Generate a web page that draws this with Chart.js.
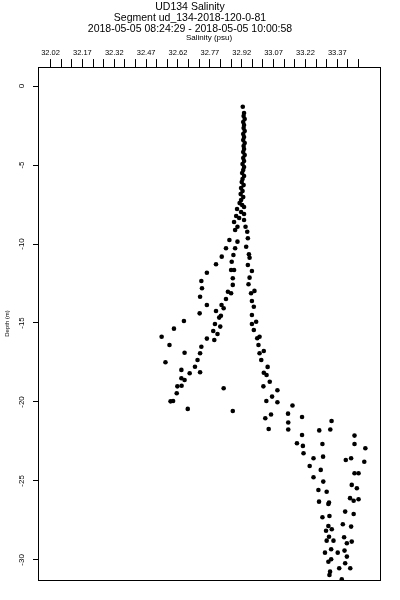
<!DOCTYPE html>
<html>
<head>
<title>UD134 Salinity</title>
<script src="https://cdn.jsdelivr.net/npm/chart.js@4.4.1/dist/chart.umd.min.js"></script>
<style>
  body{ margin:0; background:#fff; }
  canvas{ display:block; }
</style>
</head>
<body>
<canvas id="myChart" width="400" height="600"></canvas>
<script>
// titles
var titleLines = ["UD134 Salinity", "Segment ud_134-2018-120-0-81", "2018-05-05 08:24:29 - 2018-05-05 10:00:58"];
var xTitle = "Salinity (psu)";
var yTitle = "Depth (m)";

// axis ticks (minor every 0.05, labelled every 0.15)
var xTicks = [32.02,32.07,32.12,32.17,32.22,32.27,32.32,32.37,32.42,32.47,32.52,32.57,32.62,32.67,32.72,32.77,32.82,32.87,32.92,32.97,33.02,33.07,33.12,33.17,33.22,33.27,33.32,33.37,33.42,33.47];
var xLabels = ["32.02","32.17","32.32","32.47","32.62","32.77","32.92","33.07","33.22","33.37"];
var yTicks = [0,-5,-10,-15,-20,-25,-30];

// [salinity, depth]
var column = [[32.925,-1.31],[32.931,-1.71],[32.929,-1.90],[32.934,-2.09],[32.927,-2.28],[32.931,-2.47],[32.929,-2.66],[32.934,-2.85],
  [32.927,-3.04],[32.931,-3.23],[32.927,-3.42],[32.934,-3.61],[32.929,-3.80],[32.931,-3.99],[32.927,-4.18],[32.934,-4.37],
  [32.927,-4.56],[32.931,-4.75],[32.924,-4.94],[32.931,-5.13],[32.927,-5.32],[32.922,-5.51],[32.931,-5.70],[32.924,-5.89],
  [32.920,-6.08],[32.929,-6.27],[32.917,-6.46],[32.924,-6.65],[32.915,-6.84],[32.927,-7.03],[32.917,-7.22],[32.910,-7.41],
  [32.922,-7.53],[32.931,-7.66],[32.898,-7.78],[32.917,-7.97],[32.931,-8.10],[32.894,-8.23],[32.908,-8.35],[32.931,-8.48],[32.884,-8.61]];

var leftBranch = [[32.900,-8.91],[32.889,-9.11],[32.862,-9.75],[32.900,-9.85],[32.889,-10.27],[32.846,-10.27],[32.881,-10.70],
  [32.826,-10.80],[32.873,-11.12],[32.799,-11.28],[32.884,-11.65],[32.870,-11.65],[32.756,-11.82],[32.878,-12.17],[32.730,-12.34],
  [32.878,-12.59],[32.733,-12.80],[32.855,-13.02],[32.870,-13.12],[32.724,-13.34],[32.846,-13.48],[32.756,-13.86],[32.825,-13.86],
  [32.835,-14.07],[32.799,-14.24],[32.722,-14.39],[32.822,-14.54],[32.814,-14.66],[32.648,-14.87],[32.794,-15.06],[32.819,-15.23],
  [32.601,-15.36],[32.786,-15.51],[32.806,-15.70],[32.543,-15.87],[32.756,-15.99],[32.791,-16.08],[32.580,-16.39],[32.730,-16.50],
  [32.651,-16.88],[32.724,-16.92],[32.712,-17.34],[32.561,-17.49],[32.700,-17.77],[32.636,-17.97],[32.724,-18.12],[32.675,-18.18],
  [32.636,-18.50],[32.651,-18.61],[32.617,-19.01],[32.637,-18.97],[32.835,-19.13],[32.614,-19.45],[32.597,-19.94],[32.585,-19.96],
  [32.666,-20.44],[32.878,-20.57]];

var rightBranch = [[32.938,-8.91],[32.946,-9.22],[32.949,-9.64],[32.941,-10.17],[32.954,-10.65],[32.957,-10.87],[32.949,-11.33],
  [32.968,-11.71],[32.957,-12.13],[32.952,-12.55],[32.964,-13.12],[32.980,-12.97],[32.968,-13.61],[32.977,-13.97],[32.968,-14.49],
  [32.988,-14.92],[32.968,-15.06],[32.977,-15.44],[32.993,-15.97],[33.004,-15.87],[32.999,-16.39],[33.024,-16.77],[33.004,-16.92],
  [33.012,-17.34],[33.042,-17.78],[33.024,-18.15],[33.037,-18.29],[33.052,-18.72],[33.022,-19.01],[33.088,-19.26],[33.063,-19.66],
  [33.036,-19.94],[33.088,-20.02],[33.058,-20.79],[33.031,-21.03],[33.047,-21.71]];

var deepCluster = [[33.159,-20.22],[33.138,-20.74],[33.204,-20.95],[33.139,-21.30],[33.343,-21.20],[33.139,-21.74],[33.285,-21.80],
  [33.337,-21.74],[33.204,-22.09],[33.451,-22.13],[33.180,-22.61],[33.208,-22.78],[33.300,-22.66],[33.451,-22.66],[33.502,-22.93],
  [33.211,-23.25],[33.258,-23.56],[33.303,-23.46],[33.410,-23.67],[33.435,-23.56],[33.497,-23.78],[33.240,-24.05],[33.292,-24.30],
  [33.451,-24.51],[33.470,-24.51],[33.258,-24.77],[33.304,-25.04],[33.438,-25.25],[33.462,-25.46],[33.281,-25.57],[33.320,-25.68],
  [33.430,-26.09],[33.470,-26.16],[33.284,-26.31],[33.331,-26.37],[33.447,-26.25],[33.328,-26.46],[33.407,-26.94],[33.447,-27.09],
  [33.300,-27.30],[33.333,-27.22],[33.328,-27.85],[33.344,-28.06],[33.396,-27.74],[33.435,-27.89],[33.317,-28.15],[33.331,-28.53],
  [33.320,-28.78],[33.352,-28.78],[33.402,-28.56],[33.415,-28.94],[33.438,-28.84],[33.312,-29.54],[33.341,-29.32],[33.372,-29.54],
  [33.404,-29.41],[33.415,-29.79],[33.328,-30.11],[33.341,-29.96],[33.379,-30.53],[33.407,-30.21],[33.431,-30.53],[33.336,-30.74],
  [33.333,-30.95],[33.391,-31.22]];

var points = column.concat(leftBranch, rightBranch, deepCluster).map(function(p){ return {x:p[0], y:p[1]}; });

var font = "'Liberation Sans', Arial, Helvetica, sans-serif";

// box round the plot
var frame = {
  id: 'frame',
  afterDraw: function(chart){
    var a = chart.chartArea, ctx = chart.ctx;
    ctx.save();
    ctx.strokeStyle = '#000';
    ctx.lineWidth = 1;
    ctx.strokeRect(Math.round(a.left)+0.5, Math.round(a.top)+0.5, Math.round(a.right-a.left), Math.round(a.bottom-a.top));
    ctx.restore();
  }
};

var ctx = document.getElementById('myChart').getContext('2d');
var chart = new Chart(ctx, {
  type: 'scatter',
  data: {
    datasets: [{
      data: points,
      backgroundColor: '#000',
      borderWidth: 0,
      pointRadius: 2.3,
      pointHoverRadius: 2.3
    }]
  },
  options: {
    responsive: false,
    animation: false,
    devicePixelRatio: 1,
    layout: { padding: { top: 0, left: 0, right: 20, bottom: 20 } },
    plugins: {
      legend: { display: false },
      tooltip: { enabled: false },
      title: {
        display: true,
        text: titleLines,
        color: '#000',
        font: { family: font, size: 10.5, weight: 'normal', lineHeight: 1.05 },
        padding: { top: 2, bottom: 0 }
      }
    },
    scales: {
      x: {
        type: 'linear',
        position: 'top',
        min: 31.961,
        max: 33.571,
        afterBuildTicks: function(scale){ scale.ticks = xTicks.map(function(v){ return {value:v}; }); },
        afterFit: function(scale){ scale.height = 32; },
        ticks: {
          autoSkip: false,
          maxRotation: 0,
          minRotation: 0,
          padding: 1.5,
          color: '#000',
          font: { family: font, size: 7.5 },
          callback: function(v){ var s = v.toFixed(2); return xLabels.indexOf(s) >= 0 ? s : ''; }
        },
        grid: { drawOnChartArea: false, drawTicks: true, tickLength: 8, color: '#000', lineWidth: 1 },
        border: { display: true, color: '#000', width: 1 },
        title: { display: true, text: xTitle, color: '#000', font: { family: font, size: 8, lineHeight: 0.8 }, padding: 0 }
      },
      y: {
        type: 'linear',
        position: 'left',
        min: -31.27,
        max: 1.2,
        afterBuildTicks: function(scale){ scale.ticks = yTicks.map(function(v){ return {value:v}; }); },
        afterFit: function(scale){ scale.width = 38; },
        ticks: {
          minRotation: 90,
          maxRotation: 90,
          crossAlign: 'center',
          padding: 5,
          color: '#000',
          font: { family: font, size: 8 },
          callback: function(v){ return String(v); }
        },
        grid: { drawOnChartArea: false, drawTicks: true, tickLength: 5, color: '#000', lineWidth: 1 },
        border: { display: true, color: '#000', width: 1 },
        title: { display: true, text: yTitle, color: '#000', font: { family: font, size: 6, lineHeight: 1.2 }, padding: { top: 3.4, bottom: 0 } }
      }
    }
  },
  plugins: [frame]
});
</script>
</body>
</html>
